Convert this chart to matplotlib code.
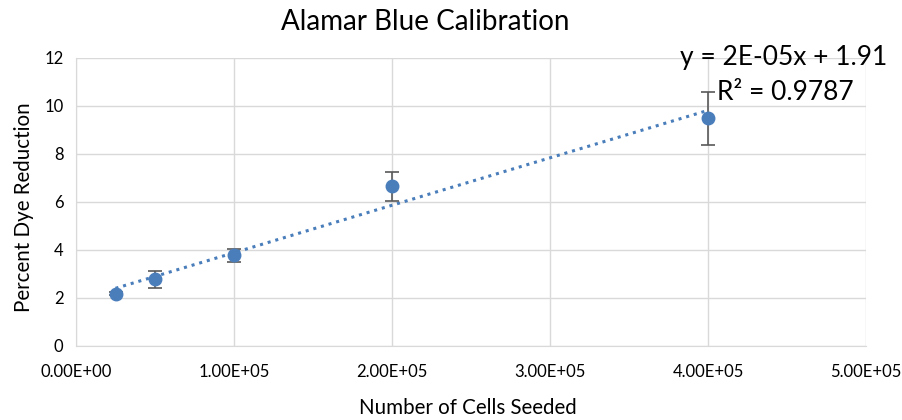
import numpy as np
import matplotlib
matplotlib.use("Agg")
import matplotlib.pyplot as plt
from matplotlib.ticker import FuncFormatter

cells = [25000, 50000, 100000, 200000, 400000]
reduction = [2.18, 2.78, 3.78, 6.65, 9.48]
errors = [0.07, 0.36, 0.28, 0.61, 1.1]
x_ticks = [0, 100000, 200000, 300000, 400000, 500000]
y_ticks = [0, 2, 4, 6, 8, 10, 12]

plt.rcParams['font.family'] = ['Lato', 'DejaVu Sans']

fig = plt.figure(figsize=(9.02, 4.2), dpi=100)
ax = fig.add_axes([76/902, 1-346/420, (866-76)/902, (346-58)/420])

blue = '#4a7ebb'
ax.errorbar(cells, reduction, yerr=errors, fmt='none', ecolor='#595959',
            elinewidth=1.2, capsize=5, capthick=1.2, zorder=3)
ax.plot(cells, reduction, 'o', color=blue, markersize=9, zorder=4)

slope, intercept = np.polyfit(cells, reduction, 1)
xs = np.array([cells[0], cells[-1]])
ax.plot(xs, slope*xs + intercept, linestyle=(0, (1, 1.6)), color=blue,
        linewidth=2.2, zorder=2)

ax.set_xlim(0, 500000)
ax.set_ylim(0, 12)
ax.set_xticks(x_ticks)
ax.set_yticks(y_ticks)
ax.xaxis.set_major_formatter(FuncFormatter(lambda v, p: f"{v:.2E}"))
ax.grid(True, color='#d9d9d9', linewidth=1)
ax.set_axisbelow(True)
for s in ['top', 'right']:
    ax.spines[s].set_visible(False)
for s in ['left', 'bottom']:
    ax.spines[s].set_color('#d9d9d9')
ax.tick_params(length=0, labelsize=12, colors='#000000')
ax.tick_params(axis='x', pad=13)
ax.tick_params(axis='y', pad=9)

fig.text(468/902, 1-408/420, 'Number of Cells Seeded', fontsize=14.8,
         ha='center', va='center')
fig.text(24/902, 1-207/420, 'Percent Dye Reduction', fontsize=14.8,
         ha='center', va='center', rotation=90)
fig.text(425/902, 1-22/420, 'Alamar Blue Calibration', fontsize=20,
         ha='center', va='center')

ax.text((887-76)/790, 1.0, 'y = 2E-05x + 1.91', transform=ax.transAxes,
        fontsize=19, ha='right', va='center')
ax.text((717-76)/790, (346-93)/288, 'R² = 0.9787', transform=ax.transAxes,
        fontsize=19, ha='left', va='center')

fig.savefig('out.png', dpi=100)
